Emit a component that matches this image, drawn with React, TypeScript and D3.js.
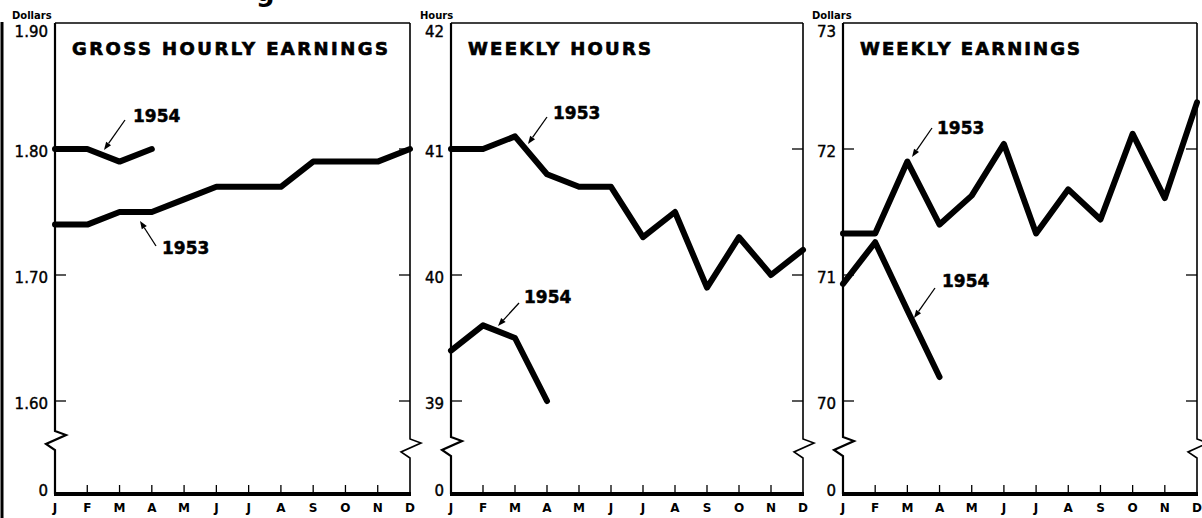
import React from "react";
import * as d3 from "d3";

const months = ["J", "F", "M", "A", "M", "J", "J", "A", "S", "O", "N", "D"];

const hourly1953 = [1.74, 1.74, 1.75, 1.75, 1.76, 1.77, 1.77, 1.77, 1.79, 1.79, 1.79, 1.8];
const hourly1954 = [1.8, 1.8, 1.79, 1.8];
const hours1953 = [41.0, 41.0, 41.1, 40.8, 40.7, 40.7, 40.3, 40.5, 39.9, 40.3, 40.0, 40.2];
const hours1954 = [39.4, 39.6, 39.5, 39.0];
const weekly1953 = [71.33, 71.33, 71.9, 71.4, 71.63, 72.04, 71.33, 71.68, 71.44, 72.12, 71.61, 72.37];
const weekly1954 = [70.93, 71.26, 70.72, 70.19];

const hourlyTicks = [1.6, 1.7, 1.8, 1.9];
const hourlyTickLabels = ["1.60", "1.70", "1.80", "1.90"];
const hoursTicks = [39, 40, 41, 42];
const hoursTickLabels = ["39", "40", "41", "42"];
const weeklyTicks = [70, 71, 72, 73];
const weeklyTickLabels = ["70", "71", "72", "73"];

const titles = ["GROSS HOURLY EARNINGS", "WEEKLY HOURS", "WEEKLY EARNINGS"];
const units = ["Dollars", "Hours", "Dollars"];

const TOP = 23;
const LOW = 401;
const ZERO = 494;
const BREAK_Y = 437;

const panels = [
  {
    left: 55, right: 410, s53: hourly1953, s54: hourly1954,
    ticks: hourlyTicks, tickLabels: hourlyTickLabels, title: titles[0], titleW: 316, unit: units[0], unitX: 12,
    breakY: 431,
    ann: [
      { text: "1954", tip: [104, 150], tail: [125, 120], lx: 133, ly: 122 },
      { text: "1953", tip: [140, 221], tail: [156, 246], lx: 162, ly: 254 },
    ],
  },
  {
    left: 451, right: 803, s53: hours1953, s54: hours1954,
    ticks: hoursTicks, tickLabels: hoursTickLabels, title: titles[1], titleW: 183, unit: units[1], unitX: 420,
    breakY: BREAK_Y,
    ann: [
      { text: "1953", tip: [528, 144], tail: [547, 117], lx: 553, ly: 119 },
      { text: "1954", tip: [498, 326], tail: [519, 303], lx: 524, ly: 303 },
    ],
  },
  {
    left: 843, right: 1197, s53: weekly1953, s54: weekly1954,
    ticks: weeklyTicks, tickLabels: weeklyTickLabels, title: titles[2], titleW: 220, unit: units[2], unitX: 812,
    breakY: BREAK_Y,
    ann: [
      { text: "1953", tip: [912, 157], tail: [932, 128], lx: 937, ly: 134 },
      { text: "1954", tip: [914, 318], tail: [935, 288], lx: 942, ly: 287 },
    ],
  },
];

const FONT = "'DejaVu Sans', sans-serif";

function axisPath(x: number, by: number) {
  return `M${x},${TOP} L${x},${by} L${x + 11},${by + 4} L${x - 9},${by + 13} L${x},${by + 19} L${x},${ZERO}`;
}

function Panel({ p }: { p: any }) {
  const x = d3.scaleLinear().domain([0, 11]).range([p.left, p.right]);
  const lo = p.ticks[0];
  const hi = p.ticks[p.ticks.length - 1];
  const y = d3.scaleLinear().domain([lo, hi]).range([LOW, TOP]);
  const line = d3
    .line<number>()
    .x((_, i) => x(i))
    .y((d) => y(d));

  const arrow = (a: any, i: number) => {
    const [tx, ty] = a.tip;
    const [sx, sy] = a.tail;
    const ang = Math.atan2(ty - sy, tx - sx);
    const L = 8, W = 3;
    const bx = tx - L * Math.cos(ang), by = ty - L * Math.sin(ang);
    const px = -Math.sin(ang) * W, py = Math.cos(ang) * W;
    return (
      <g key={i}>
        <line x1={sx} y1={sy} x2={bx} y2={by} stroke="#000" strokeWidth={1.3} />
        <path d={`M${tx},${ty} L${bx + px},${by + py} L${bx - px},${by - py} Z`} fill="#000" />
        <text x={a.lx} y={a.ly} fontFamily={FONT} fontWeight="bold" fontSize={17} fill="#000" stroke="#000" strokeWidth={0.5}>
          {a.text}
        </text>
      </g>
    );
  };

  return (
    <g>
      <line x1={p.left} y1={TOP} x2={p.right} y2={TOP} stroke="#000" strokeWidth={1.4} />
      <path d={axisPath(p.left, p.breakY)} fill="none" stroke="#000" strokeWidth={2.2} />
      <path d={axisPath(p.right, BREAK_Y + 2)} fill="none" stroke="#000" strokeWidth={1.6} />
      {p.ticks.map((t: number, i: number) => (
        <g key={i}>
          {i < p.ticks.length - 1 && (
            <>
              <line x1={p.left} y1={y(t)} x2={p.left + 11} y2={y(t)} stroke="#000" strokeWidth={1.3} />
              <line x1={p.right - 11} y1={y(t)} x2={p.right} y2={y(t)} stroke="#000" strokeWidth={1.3} />
            </>
          )}
          <text
            x={p.left - 7}
            y={i === p.ticks.length - 1 ? y(t) + 9 : y(t) + 3}
            dominantBaseline="central"
            textAnchor="end"
            fontFamily={FONT}
            fontSize={15}
            fill="#000"
            stroke="#000"
            strokeWidth={0.4}
          >
            {p.tickLabels[i]}
          </text>
        </g>
      ))}
      <text x={p.left - 7} y={ZERO - 3} dominantBaseline="central" textAnchor="end" fontFamily={FONT} fontSize={15} fill="#000" stroke="#000" strokeWidth={0.4}>
        0
      </text>
      <text x={p.unitX} y={15} dominantBaseline="central" fontFamily={FONT} fontWeight="bold" fontSize={10} fill="#000">
        {p.unit}
      </text>
      <line x1={p.left - 1} y1={ZERO} x2={p.right + 1} y2={ZERO} stroke="#000" strokeWidth={4} />
      {months.map((m, i) => (
        <g key={i}>
          {i > 0 && i < 11 && (
            <line x1={x(i)} y1={ZERO - 9} x2={x(i)} y2={ZERO} stroke="#000" strokeWidth={1.3} />
          )}
          <text x={x(i)} y={508} dominantBaseline="central" textAnchor="middle" fontFamily={FONT} fontWeight="bold" fontSize={12} fill="#000">
            {m}
          </text>
        </g>
      ))}
      <text
        x={p.left + 17}
        y={48}
        dominantBaseline="central"
        fontFamily={FONT}
        fontWeight="bold"
        fontSize={18}
        textLength={p.titleW}
        lengthAdjust="spacing"
        fill="#000"
        stroke="#000"
        strokeWidth={0.7}
      >
        {p.title}
      </text>
      <path d={line(p.s53) || ""} fill="none" stroke="#000" strokeWidth={6} strokeLinejoin="round" strokeLinecap="round" />
      <path d={line(p.s54) || ""} fill="none" stroke="#000" strokeWidth={6} strokeLinejoin="round" strokeLinecap="round" />
      {p.ann.map(arrow)}
    </g>
  );
}

export default function App() {
  return (
    <svg
      width={1202}
      height={518}
      style={{ position: "absolute", left: 0, top: 0, background: "#fff" }}
      viewBox="0 0 1202 518"
    >
      <rect x={0} y={0} width={1202} height={518} fill="#fff" />
      <text x={256} y={1} fontFamily={FONT} fontWeight="bold" fontSize={26} fill="#000">
        g
      </text>
      <line x1={2} y1={22} x2={2} y2={518} stroke="#000" strokeWidth={3} />
      {panels.map((p, i) => (
        <Panel key={i} p={p} />
      ))}
    </svg>
  );
}
